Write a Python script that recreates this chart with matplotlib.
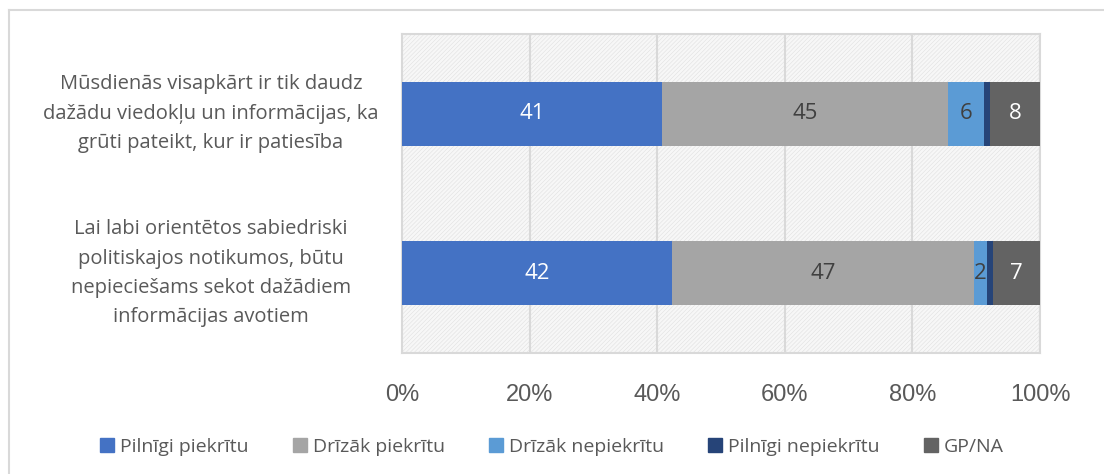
import matplotlib

matplotlib.use("Agg")
import matplotlib.pyplot as plt
from matplotlib.patches import Rectangle
from matplotlib.lines import Line2D
from matplotlib.transforms import blended_transform_factory
import numpy as np

# --- data -------------------------------------------------------------------
statements = [
    "Mūsdienās visapkārt ir tik daudz\ndažādu viedokļu un informācijas, ka\ngrūti pateikt, kur ir patiesība",
    "Lai labi orientētos sabiedriski\npolitiskajos notikumos, būtu\nnepieciešams sekot dažādiem\ninformācijas avotiem",
]
answers = ["Pilnīgi piekrītu", "Drīzāk piekrītu", "Drīzāk nepiekrītu",
           "Pilnīgi nepiekrītu", "GP/NA"]
# shares in %, one list per answer (statement order as above)
pilnigi_piekritu = [40.8, 42.3]
drizak_piekritu = [44.8, 47.4]
drizak_nepiekritu = [5.6, 2.0]
pilnigi_nepiekritu = [0.9, 0.9]
gp_na = [7.9, 7.4]
xticks = [0, 20, 40, 60, 80, 100]

series = [pilnigi_piekritu, drizak_piekritu, drizak_nepiekritu,
          pilnigi_nepiekritu, gp_na]
colors = ["#4472C4", "#A5A5A5", "#5B9BD5", "#264478", "#636363"]
label_colors = ["white", "#404040", "#404040", None, "white"]
TXT = "#595959"
GRID = "#d9d9d9"
LABEL_FONT = ["Open Sans", "DejaVu Sans"]

plt.rcParams["hatch.linewidth"] = 0.4

fig = plt.figure(figsize=(11.04, 4.74), dpi=100)
ax = fig.add_axes([402 / 1104, 121 / 474, 638 / 1104, 319 / 474])

# textured plot area
ax.set_facecolor("white")
ax.add_patch(Rectangle((0, 0), 1, 1, transform=ax.transAxes,
                       facecolor="#f7f7f7", edgecolor="#e0e0e0",
                       hatch="////////", linewidth=0, zorder=0))

y = np.arange(len(statements))
left = np.zeros(len(statements))
for vals, col, lc in zip(series, colors, label_colors):
    vals = np.array(vals)
    ax.barh(y, vals, 0.4, left=left, color=col, zorder=3, linewidth=0)
    if lc:
        for yi, l, v in zip(y, left, vals):
            ax.text(l + v / 2, yi, f"{v:.0f}", ha="center", va="center",
                    color=lc, fontsize=16, family=LABEL_FONT, zorder=4)
    left = left + vals

ax.set_xlim(0, 100)
ax.set_ylim(1.5, -0.5)
ax.set_xticks(xticks)
ax.set_xticklabels([f"{t}%" for t in xticks], fontsize=17,
                   family="Liberation Sans", color=TXT)
ax.tick_params(axis="x", length=0, pad=22)
ax.set_yticks([])
for t in xticks[1:]:
    ax.axvline(t, color=GRID, linewidth=1.5, zorder=1)
for s in ax.spines.values():
    s.set_color(GRID)
    s.set_linewidth(1.5)

# statement labels, centred in the left margin
lbl_tr = blended_transform_factory(fig.transFigure, ax.transData)
for yi, txt in zip(y, statements):
    ax.text(211 / 1104, yi, txt, transform=lbl_tr,
            ha="center", va="center", multialignment="center", fontsize=14.5,
            color=TXT, family=LABEL_FONT, linespacing=1.62)

handles = [Rectangle((0, 0), 1, 1, color=c) for c in colors]
fig.legend(handles, answers, loc="center", bbox_to_anchor=(0.5, 27 / 474),
           ncol=5, frameon=False, handlelength=0.7, handleheight=0.7,
           handletextpad=0.3, columnspacing=2.3,
           prop={"family": LABEL_FONT, "size": 14}, labelcolor=TXT)

# chart frame
fig.add_artist(Line2D([8.5 / 1104, 8.5 / 1104], [0, 1 - 10 / 474],
                      color=GRID, linewidth=1.5))
fig.add_artist(Line2D([8.5 / 1104, 1], [1 - 10 / 474, 1 - 10 / 474],
                      color=GRID, linewidth=1.5))

fig.savefig("out.png", dpi=100, facecolor="white")
